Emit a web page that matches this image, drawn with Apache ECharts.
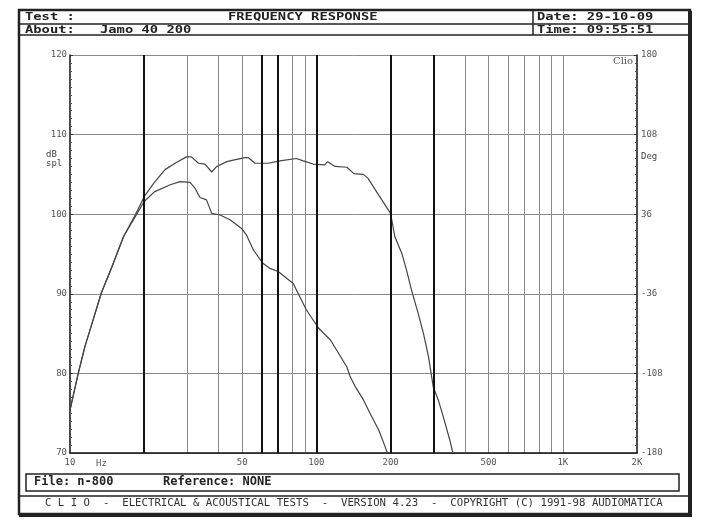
<!DOCTYPE html>
<html>
<head>
<meta charset="utf-8">
<script src="https://cdn.jsdelivr.net/npm/echarts@6/dist/echarts.min.js"></script>
<style>
  html, body { margin: 0; padding: 0; background: #fff; }
  #chart { width: 708px; height: 528px; }
</style>
</head>
<body>
<div id="chart"></div>
<script>
// grid lines on the frequency axis (Hz)
const freqGrid = [20, 30, 40, 50, 60, 70, 80, 90, 100, 200, 300, 400, 500, 600, 700, 800, 900, 1000]
const freqDark = [20, 60, 70, 100, 200, 300]
const freqLabels = [10, 50, 100, 200, 500, 1000, 2000]
const degLabels = ['-180', '-108', '-36', '36', '108', '180']

// measured curves, [Hz, dB spl]
const upperCurve = [
  [10, 75.4], [10.8, 80.0], [11.5, 83.4], [12.4, 86.7], [13.4, 90.1], [14.8, 93.4],
  [16.5, 97.2], [18.4, 99.9], [20, 102.2], [22, 104.0], [24.3, 105.6], [27, 106.5],
  [29.7, 107.2], [31.1, 107.2], [33.2, 106.4], [35.3, 106.3], [37.6, 105.3], [39.4, 106.0],
  [43.3, 106.6], [46, 106.8], [51.3, 107.1], [53, 107.1], [56.3, 106.4], [63.8, 106.4],
  [71, 106.7], [83, 107.0], [88.4, 106.7], [97, 106.3], [108, 106.2], [111, 106.6],
  [119, 106.0], [133, 105.9], [142, 105.1], [155, 105.0], [162, 104.5], [179, 102.4],
  [200, 100.1], [208, 97.2], [222, 95.1], [232, 93.0], [243, 90.5], [259, 87.5],
  [272, 85.0], [285, 82.1], [298, 78.3], [312, 76.7], [327, 74.6], [348, 71.6], [358, 70.0]
]
const lowerCurve = [
  [10, 75.4], [10.8, 80.0], [11.5, 83.4], [12.4, 86.7], [13.4, 90.1], [14.8, 93.4],
  [16.5, 97.2], [18.4, 99.7], [20, 101.6], [22, 102.8], [25.5, 103.7], [28, 104.1],
  [30.7, 104.0], [32.1, 103.3], [33.7, 102.1], [35.8, 101.8], [37.6, 100.1], [40.6, 99.9],
  [44.6, 99.3], [49.7, 98.2], [52, 97.4], [55.5, 95.5], [60.8, 93.8], [64.7, 93.2],
  [70, 92.8], [80.5, 91.3], [87, 89.2], [91, 88.0], [102, 85.7], [114, 84.2],
  [133, 80.8], [137, 79.6], [144, 78.3], [155, 76.7], [165, 75.0], [179, 72.9],
  [190, 70.8], [194, 70.0]
]

const mono = 'DejaVu Sans Mono'
const ink = '#222'
const headFont = 'bold 10px ' + mono

// header text, stretched wide like the old bitmap font
function head(text, x, y) {
  return {
    type: 'text', x: x, y: y, scaleX: 1.38,
    style: { text: text, font: headFont, fill: ink, verticalAlign: 'middle' }
  }
}

const chart = echarts.init(document.getElementById('chart'))

chart.setOption({
  animation: false,
  backgroundColor: '#fff',
  grid: { left: 70, right: 71, top: 55, bottom: 75, outerBoundsMode: 'none' },
  xAxis: {
    type: 'log',
    logBase: 10,
    min: 10,
    max: 2000,
    axisLine: { lineStyle: { color: '#111', width: 1.5 } },
    axisTick: { show: false, customValues: freqGrid },
    axisLabel: {
      customValues: freqLabels,
      color: '#555',
      fontSize: 9,
      fontFamily: mono,
      margin: 5,
      formatter: v => (v >= 1000 ? v / 1000 + 'K' : String(v))
    },
    splitLine: { show: true, lineStyle: { color: '#8a8a8a', width: 1 } }
  },
  yAxis: [{
    type: 'value',
    min: 70,
    max: 120,
    interval: 10,
    axisLine: { show: true, lineStyle: { color: '#111', width: 1.5 } },
    axisTick: { show: true, inside: true, length: 3, lineStyle: { color: '#333' } },
    minorTick: { show: true, splitNumber: 10, length: 2, lineStyle: { color: '#555' } },
    axisLabel: { color: '#555', fontSize: 9, fontFamily: mono, margin: 3 },
    splitLine: { show: true, lineStyle: { color: '#8a8a8a', width: 1 } }
  }, {
    type: 'value',
    position: 'right',
    min: 0,
    max: 360,
    interval: 72,
    axisLine: { show: true, lineStyle: { color: '#111', width: 1.5 } },
    axisTick: { show: true, inside: true, length: 3, lineStyle: { color: '#333' } },
    minorTick: { show: true, splitNumber: 10, length: 2, lineStyle: { color: '#555' } },
    axisLabel: {
      color: '#555', fontSize: 9, fontFamily: mono, margin: 4,
      formatter: (v, i) => degLabels[i]
    },
    splitLine: { show: false }
  }],
  series: [{
    type: 'line',
    data: upperCurve,
    symbol: 'none',
    lineStyle: { color: '#444', width: 1.2 },
    markLine: {
      silent: true,
      symbol: ['none', 'none'],
      label: { show: false },
      lineStyle: { color: '#111', width: 2, type: 'solid' },
      data: freqDark.map(f => ({ xAxis: f }))
    }
  }, {
    type: 'line',
    data: lowerCurve,
    symbol: 'none',
    lineStyle: { color: '#444', width: 1.2 }
  }],
  graphic: [
    // outer frame
    { type: 'rect', shape: { x: 19, y: 10, width: 671, height: 504 }, style: { fill: 'none', stroke: ink, lineWidth: 2.5 } },
    { type: 'line', shape: { x1: 690, y1: 11, x2: 690, y2: 516 }, style: { stroke: ink, lineWidth: 4 } },
    { type: 'line', shape: { x1: 19, y1: 515, x2: 692, y2: 515 }, style: { stroke: ink, lineWidth: 4 } },
    // header rows
    { type: 'line', shape: { x1: 19, y1: 24, x2: 690, y2: 24 }, style: { stroke: ink, lineWidth: 1.5 } },
    { type: 'line', shape: { x1: 19, y1: 35, x2: 690, y2: 35 }, style: { stroke: ink, lineWidth: 1.5 } },
    { type: 'line', shape: { x1: 533, y1: 10, x2: 533, y2: 35 }, style: { stroke: ink, lineWidth: 1.5 } },
    head('Test :', 25, 17.5),
    head('FREQUENCY RESPONSE', 228, 17.5),
    head('Date: 29-10-09', 537, 17.5),
    head('About:', 25, 30),
    head('Jamo 40 200', 100, 30),
    head('Time: 09:55:51', 537, 30),
    // axis names
    { type: 'text', left: 46, top: 150, style: { text: 'dB\nspl', font: '9px ' + mono, fill: '#444', lineHeight: 9 } },
    { type: 'text', left: 641, top: 152, style: { text: 'Deg', font: '9px ' + mono, fill: '#444' } },
    { type: 'text', left: 96, top: 459, style: { text: 'Hz', font: '9px ' + mono, fill: '#555' } },
    { type: 'text', left: 613, top: 56, style: { text: 'Clio', font: '10px "DejaVu Serif"', fill: '#555' } },
    // file box and footer
    { type: 'rect', shape: { x: 26, y: 474, width: 653, height: 17 }, style: { fill: 'none', stroke: ink, lineWidth: 1.5 } },
    { type: 'text', left: 34, top: 476, style: { text: 'File: n-800', font: 'bold 12px ' + mono, fill: ink } },
    { type: 'text', left: 163, top: 476, style: { text: 'Reference: NONE', font: 'bold 12px ' + mono, fill: ink } },
    { type: 'line', shape: { x1: 19, y1: 496, x2: 690, y2: 496 }, style: { stroke: ink, lineWidth: 1.5 } },
    { type: 'text', left: 45, top: 498, style: { text: 'C L I O  -  ELECTRICAL & ACOUSTICAL TESTS  -  VERSION 4.23  -  COPYRIGHT (C) 1991-98 AUDIOMATICA', font: '10.7px ' + mono, fill: '#333' } }
  ]
})
</script>
</body>
</html>
